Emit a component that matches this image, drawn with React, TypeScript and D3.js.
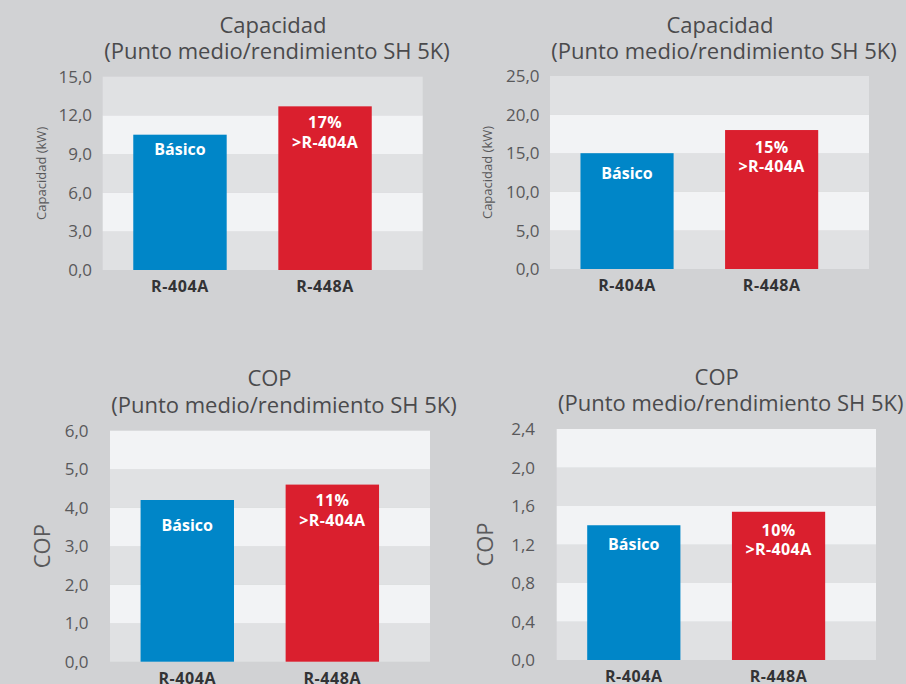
import React from "react";
import * as d3 from "d3";

// ---------- data ----------
const categories = ["R-404A", "R-448A"];
const capacityLeft = [10.5, 12.7];
const capacityRight = [15.0, 18.0];
const copLeft = [4.2, 4.6];
const copRight = [1.4, 1.54];

const ticksCapLeft = [0, 3, 6, 9, 12, 15];
const ticksCapRight = [0, 5, 10, 15, 20, 25];
const ticksCopLeft = [0, 1, 2, 3, 4, 5, 6];
const ticksCopRight = [0, 0.4, 0.8, 1.2, 1.6, 2.0, 2.4];

const baseLabel = "Básico";
const gainPct = ["17%", "15%", "11%", "10%"];
const gainSuffix = ">R-404A";
const titlesMain = ["Capacidad", "Capacidad", "COP", "COP"];
const subtitle = "(Punto medio/rendimiento SH 5K)";
const axisTitles = ["Capacidad  (kW)", "Capacidad (kW)", "COP", "COP"];

// ---------- layout ----------
const W = 906;
const H = 684;
const FONT = "'Open Sans', 'Noto Sans', sans-serif";
const C = {
  bg: "#d1d2d4",
  dark: "#e0e1e3",
  light: "#f2f3f5",
  blue: "#0086c8",
  red: "#da1f2e",
  text: "#4a4a4c",
  tick: "#59595b",
  xlab: "#333335",
};

type Panel = {
  values: number[];
  ticks: number[];
  x0: number; x1: number; yTop: number; yBottom: number;
  tickX: number; axisX: number; axisSize: number;
  titleX: number; subX: number; titleY: number; subY: number;
  baseOff: number; gainOff: number;
  idx: number;
};

const panels: Panel[] = [
  { values: capacityLeft, ticks: ticksCapLeft, x0: 102.7, x1: 422.7, yTop: 76.7, yBottom: 270,
    tickX: 92, axisX: 41.7, axisSize: 13, titleX: 273, subX: 277, titleY: 33, subY: 59,
    baseOff: 20, gainOff: 22, idx: 0 },
  { values: capacityRight, ticks: ticksCapRight, x0: 550, x1: 869, yTop: 76, yBottom: 269,
    tickX: 539.5, axisX: 487.3, axisSize: 13, titleX: 720, subX: 724, titleY: 33, subY: 59,
    baseOff: 26, gainOff: 22.7, idx: 1 },
  { values: copLeft, ticks: ticksCopLeft, x0: 110, x1: 430, yTop: 430.7, yBottom: 661.7,
    tickX: 88.5, axisX: 41.7, axisSize: 22, titleX: 269.5, subX: 284, titleY: 386, subY: 412.7,
    baseOff: 31, gainOff: 21.7, idx: 2 },
  { values: copRight, ticks: ticksCopRight, x0: 556.7, x1: 876, yTop: 429, yBottom: 660,
    tickX: 535, axisX: 485, axisSize: 22, titleX: 716.7, subX: 730.7, titleY: 385, subY: 410.7,
    baseOff: 25, gainOff: 24, idx: 3 },
];

const fmt = (v: number) => d3.format(".1f")(v).replace(".", ",");

function ChartPanel({ p }: { p: Panel }) {
  const yMax = p.ticks[p.ticks.length - 1];
  const y = d3.scaleLinear().domain([0, yMax]).range([p.yBottom, p.yTop]);
  const x = d3
    .scaleBand<string>()
    .domain(categories)
    .range([p.x0, p.x1])
    .paddingInner(0.356)
    .paddingOuter(0.281)
    .align(0.375);
  const bands = d3.pairs(p.ticks);
  const axisMid = (p.yTop + p.yBottom) / 2;
  return (
    <g>
      {bands.map(([a, b], i) => (
        <rect
          key={i}
          x={p.x0}
          width={p.x1 - p.x0}
          y={y(b)}
          height={y(a) - y(b)}
          fill={i % 2 === 0 ? C.dark : C.light}
        />
      ))}
      {p.ticks.map((t) => (
        <text
          key={t}
          x={p.tickX}
          y={y(t)}
          dy="0.36em"
          textAnchor="end"
          fontSize={17}
          fill={C.tick}
          fontFamily={FONT}
        >
          {fmt(t)}
        </text>
      ))}
      <text
        transform={`translate(${p.axisX},${axisMid}) rotate(-90)`}
        dy="0.36em"
        textAnchor="middle"
        fontSize={p.axisSize}
        fill={C.tick}
        fontFamily={FONT}
      >
        {axisTitles[p.idx]}
      </text>
      <text x={p.titleX} y={p.titleY} textAnchor="middle" fontSize={22} fill={C.text} fontFamily={FONT}>
        {titlesMain[p.idx]}
      </text>
      <text x={p.subX} y={p.subY} textAnchor="middle" fontSize={22} fill={C.text} fontFamily={FONT}>
        {subtitle}
      </text>
      {categories.map((c, i) => {
        const bx = x(c)!;
        const bw = x.bandwidth();
        const top = y(p.values[i]);
        const cx = bx + bw / 2;
        return (
          <g key={c}>
            <rect x={bx} y={top} width={bw} height={p.yBottom - top} fill={i === 0 ? C.blue : C.red} />
            {i === 0 ? (
              <text x={cx} y={top + p.baseOff} textAnchor="middle" fontSize={16} fontWeight={700}
                fill="#ffffff" fontFamily={FONT}>
                {baseLabel}
              </text>
            ) : (
              <text textAnchor="middle" fontSize={16} fontWeight={700} fill="#ffffff" fontFamily={FONT}
                letterSpacing={0.4}>
                <tspan x={cx} y={top + p.gainOff}>{gainPct[p.idx]}</tspan>
                <tspan x={cx} y={top + p.gainOff + 19.7}>{gainSuffix}</tspan>
              </text>
            )}
            <text x={cx} y={p.yBottom + 22} textAnchor="middle" fontSize={16} fontWeight={700}
              fill={C.xlab} fontFamily={FONT} letterSpacing={0.6}>
              {c}
            </text>
          </g>
        );
      })}
    </g>
  );
}

export default function App() {
  return (
    <svg
      width={W}
      height={H}
      viewBox={`0 0 ${W} ${H}`}
      style={{ position: "absolute", left: 0, top: 0, display: "block" }}
    >
      <rect x={0} y={0} width={W} height={H} fill={C.bg} />
      {panels.map((p) => (
        <ChartPanel key={p.idx} p={p} />
      ))}
    </svg>
  );
}
